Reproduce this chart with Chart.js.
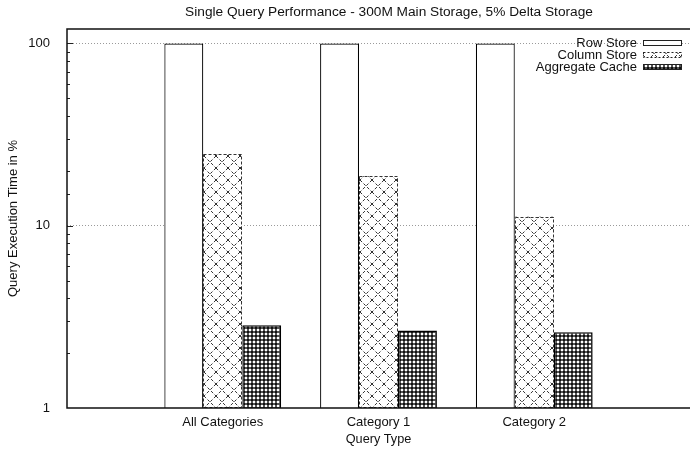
<!DOCTYPE html>
<html>
<head>
<meta charset="utf-8">
<script src="https://cdn.jsdelivr.net/npm/chart.js@4"></script>
<style>
  html, body { margin: 0; padding: 0; background: #fff; overflow: hidden; }
  #wrap { width: 697px; height: 450px; }
</style>
</head>
<body>
<div id="wrap"><canvas id="myChart" width="697" height="450"></canvas></div>
<script>
const chartTitle = 'Single Query Performance - 300M Main Storage, 5% Delta Storage';
const categories = ['All Categories', 'Category 1', 'Category 2'];
const rowStore = [100, 100, 100];
const columnStore = [24.7, 18.7, 11.2];
const aggregateCache = [2.84, 2.66, 2.6];
const yTickLabels = [1, 10, 100];

// gnuplot style x range runs one slot before and after the groups
const labels = [''].concat(categories, ['']);
function pad(arr) { return [null].concat(arr, [null]); }

const FONT = '"Liberation Sans", Arial, sans-serif';

function makePattern(size, draw) {
    const c = document.createElement('canvas');
    c.width = size; c.height = size;
    const g = c.getContext('2d');
    g.fillStyle = '#fff';
    g.fillRect(0, 0, size, size);
    draw(g, size);
    return document.getElementById('myChart').getContext('2d').createPattern(c, 'repeat');
}

const sparseHatch = makePattern(12, function (g, s) {
    g.strokeStyle = '#333';
    g.lineWidth = 1;
    g.setLineDash([3, 2]);
    g.beginPath();
    g.moveTo(0, 0); g.lineTo(s, s);
    g.moveTo(s, 0); g.lineTo(0, s);
    g.stroke();
});
// dense cross hatch: dark web with small round white holes
const denseHatch = makePattern(4, function (g) {
    const shade = [
        ['#111', '#555', '#555', '#111'],
        ['#555', '#fff', '#fff', '#555'],
        ['#555', '#fff', '#fff', '#555'],
        ['#111', '#555', '#555', '#111']
    ];
    for (let yy = 0; yy < 4; yy++) {
        for (let xx = 0; xx < 4; xx++) {
            g.fillStyle = shade[yy][xx];
            g.fillRect(xx, yy, 1, 1);
        }
    }
});

const frameAndTicks = {
    id: 'frameAndTicks',
    afterDatasetsDraw(chart) {
        const ctx = chart.ctx;
        const a = chart.chartArea;
        const y = chart.scales.y;
        ctx.save();
        // dashed outline for the column store bars
        const meta = chart.getDatasetMeta(1);
        const values = chart.data.datasets[1].data;
        ctx.strokeStyle = '#333';
        ctx.lineWidth = 1;
        ctx.setLineDash([3, 2]);
        meta.data.forEach(function (bar, i) {
            if (values[i] == null) return;
            const w = bar.width;
            ctx.strokeRect(Math.round(bar.x - w / 2) + 0.5, Math.round(bar.y) + 0.5,
                Math.round(w) - 1, Math.round(bar.base - bar.y) - 1);
        });
        ctx.setLineDash([]);
        // inward tick marks on the y axis
        ctx.strokeStyle = '#222';
        ctx.lineWidth = 1;
        y.ticks.forEach(function (t) {
            if (t.value <= y.min || t.value >= y.max) return;
            const py = Math.round(y.getPixelForValue(t.value)) + 0.5;
            const major = yTickLabels.indexOf(t.value) >= 0;
            ctx.beginPath();
            ctx.moveTo(a.left, py);
            ctx.lineTo(a.left + (major ? 6 : 3), py);
            ctx.stroke();
        });
        // frame: left, top, bottom
        ctx.strokeStyle = '#111';
        ctx.lineWidth = 1.5;
        ctx.beginPath();
        ctx.moveTo(a.right, a.top);
        ctx.lineTo(a.left, a.top);
        ctx.lineTo(a.left, a.bottom);
        ctx.lineTo(a.right, a.bottom);
        ctx.stroke();
        // title, centred over the plot as gnuplot does
        ctx.fillStyle = '#111';
        ctx.font = '13.7px ' + FONT;
        ctx.textAlign = 'center';
        ctx.textBaseline = 'middle';
        ctx.fillText(chartTitle, 389, 12);
        // legend inside the plot, top right
        ctx.font = '13px ' + FONT;
        ctx.textAlign = 'right';
        chart.data.datasets.forEach(function (ds, i) {
            const cy = 43 + i * 12;
            ctx.fillStyle = '#111';
            ctx.fillText(ds.label, 637, cy);
            ctx.fillStyle = ds.backgroundColor;
            ctx.fillRect(643, cy - 3, 39, 6);
            ctx.strokeStyle = '#222';
            ctx.lineWidth = 1;
            if (i === 1) ctx.setLineDash([2, 2]);
            ctx.strokeRect(643.5, cy - 2.5, 38, 5);
            ctx.setLineDash([]);
        });
        ctx.restore();
    }
};

const ctx = document.getElementById('myChart').getContext('2d');
const chartData = {
    type: 'bar',
    data: {
        labels: labels,
        datasets: [{
            label: 'Row Store',
            data: pad(rowStore),
            backgroundColor: '#ffffff',
            borderColor: '#000',
            borderWidth: 1.2
        }, {
            label: 'Column Store',
            data: pad(columnStore),
            backgroundColor: sparseHatch,
            borderWidth: 0
        }, {
            label: 'Aggregate Cache',
            data: pad(aggregateCache),
            backgroundColor: denseHatch,
            borderColor: '#000',
            borderWidth: 1.5
        }]
    },
    options: {
        responsive: false,
        animation: false,
        categoryPercentage: 0.75,
        barPercentage: 1.0,
        layout: { padding: { top: 29 } },
        plugins: {
            legend: { display: false },
            tooltip: { enabled: false },
            title: { display: false }
        },
        scales: {
            x: {
                type: 'category',
                offset: false,
                grid: { display: false, drawTicks: false },
                border: { display: false },
                ticks: {
                    color: '#111',
                    autoSkip: false,
                    maxRotation: 0,
                    padding: 7,
                    font: { family: FONT, size: 13 }
                },
                title: {
                    display: true,
                    text: 'Query Type',
                    color: '#111',
                    padding: { top: 0, bottom: 3 },
                    font: { family: FONT, size: 12.7 }
                },
                afterFit(scale) { scale.height = 42; }
            },
            y: {
                type: 'logarithmic',
                min: 1,
                max: 120,
                grid: {
                    drawTicks: false,
                    color(c) {
                        const v = c.tick && c.tick.value;
                        return (v === 10 || v === 100) ? '#9a9a9a' : 'rgba(0,0,0,0)';
                    },
                    lineWidth: 1
                },
                border: { display: false, dash: [1, 2] },
                ticks: {
                    color: '#111',
                    autoSkip: false,
                    padding: 17,
                    font: { family: FONT, size: 13 },
                    callback(v) { return yTickLabels.indexOf(v) >= 0 ? String(v) : ''; }
                },
                title: {
                    display: true,
                    text: 'Query Execution Time in %',
                    color: '#111',
                    padding: { top: 6, bottom: 0 },
                    font: { family: FONT, size: 13 }
                },
                afterFit(scale) { scale.width = 67; }
            }
        }
    },
    plugins: [frameAndTicks]
};
const myChart = new Chart(ctx, chartData);
</script>
</body>
</html>
